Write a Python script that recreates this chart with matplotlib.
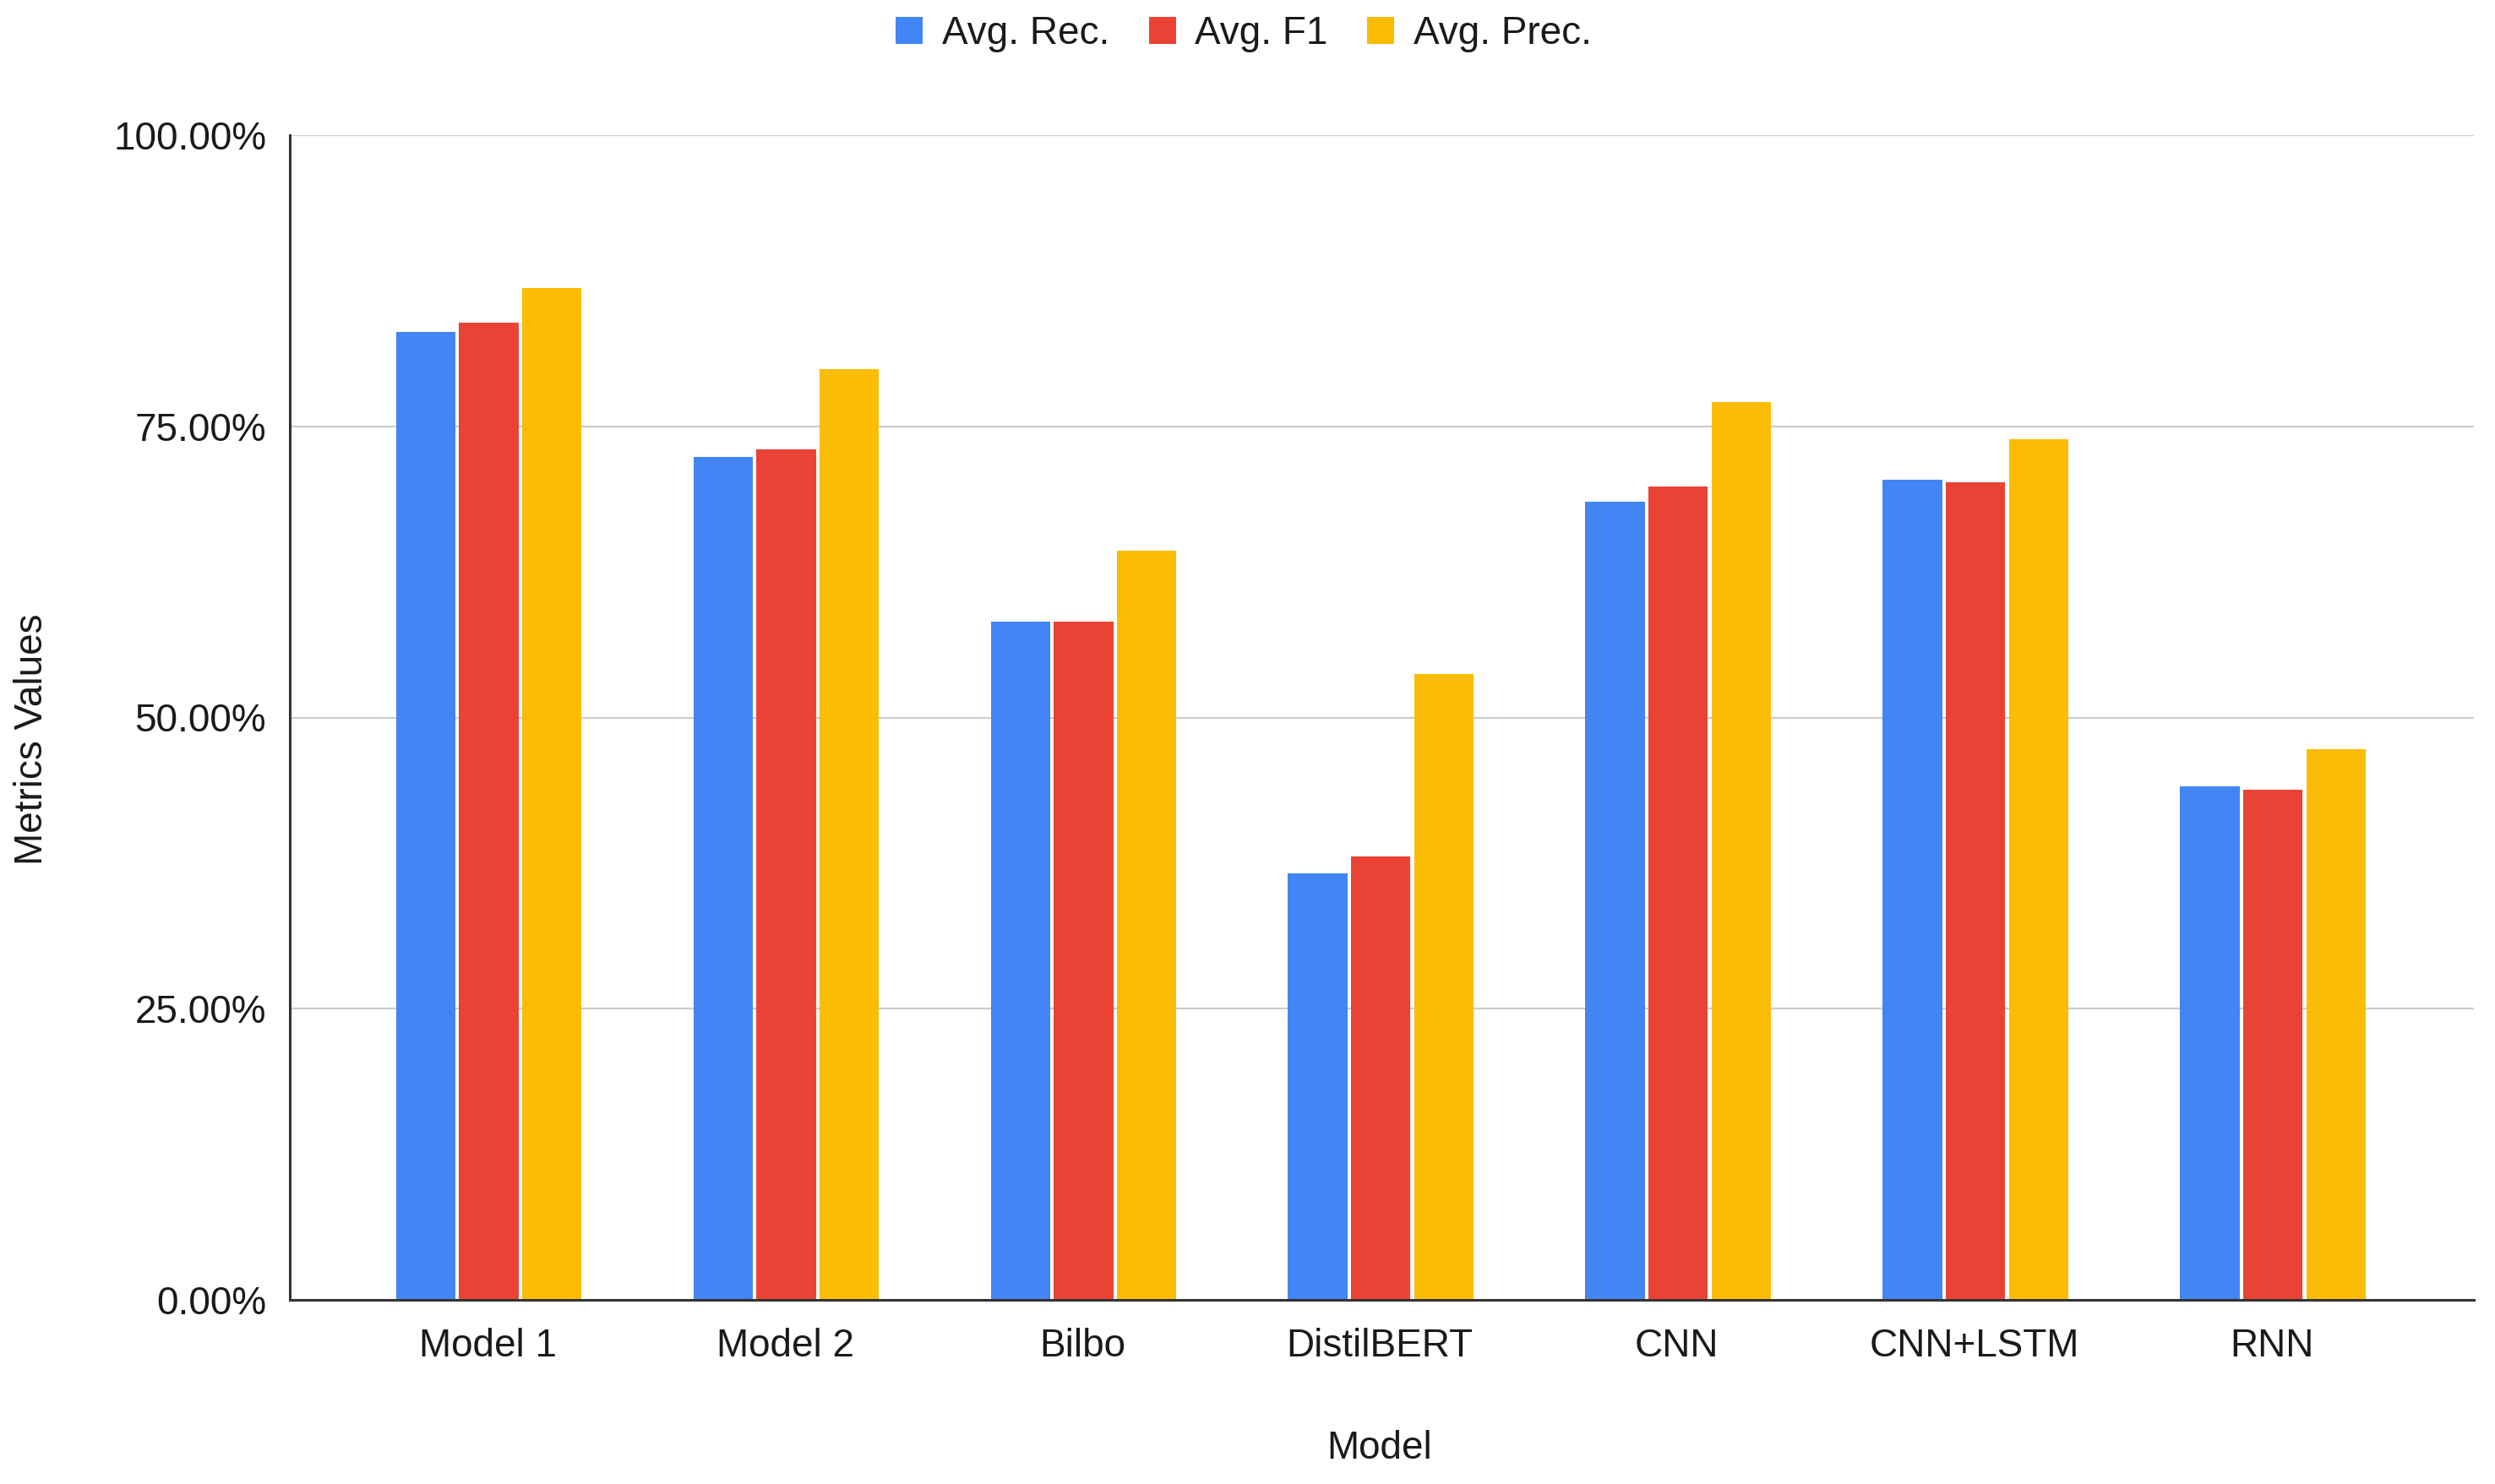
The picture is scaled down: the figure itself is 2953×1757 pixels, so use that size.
import numpy as np
import matplotlib
matplotlib.use('Agg')
import matplotlib.pyplot as plt
from matplotlib.ticker import PercentFormatter

# values (in %)
models = ['Model 1', 'Model 2', 'Bilbo', 'DistilBERT', 'CNN', 'CNN+LSTM', 'RNN']
avg_rec = [83.1, 72.4, 58.2, 36.6, 68.5, 70.4, 44.1]
avg_f1 = [83.9, 73.0, 58.2, 38.1, 69.8, 70.2, 43.8]
avg_prec = [86.9, 79.9, 64.3, 53.7, 77.1, 73.9, 47.3]

series = ['Avg. Rec.', 'Avg. F1', 'Avg. Prec.']
colors = ['#4285F4', '#EA4335', '#FBBC04']

plt.rcParams['font.family'] = ['Liberation Sans', 'DejaVu Sans']

fig = plt.figure(figsize=(29.53, 17.57), dpi=100)
ax = fig.add_axes([343 / 2953, 1 - 1539 / 1757, (2928 - 343) / 2953, (1539 - 160) / 1757])

x = np.arange(len(models))
width = 0.2
for i, (vals, name, col) in enumerate(zip([avg_rec, avg_f1, avg_prec], series, colors)):
    ax.bar(x + (i - 1) * 0.212 + 0.004, vals, width, color=col, label=name, zorder=3)

ax.set_xlim(-0.665, 6.68)
ax.set_ylim(0, 100)
ax.set_yticks([0, 25, 50, 75, 100])
ax.yaxis.set_major_formatter(PercentFormatter(decimals=2))
ax.set_xticks(x)
ax.set_xticklabels(models)

ax.grid(axis='y', color='#cccccc', linewidth=1.6, zorder=0)
for s in ['top', 'right']:
    ax.spines[s].set_visible(False)
for s in ['left', 'bottom']:
    ax.spines[s].set_color('#333333')
    ax.spines[s].set_linewidth(2.2)
    ax.spines[s].set_zorder(4)

ax.tick_params(axis='both', length=0, labelsize=33, colors='#1a1a1a')
ax.tick_params(axis='y', pad=20)
ax.tick_params(axis='x', pad=24)

fig.text(1633 / 2953, 1 - 1715 / 1757, 'Model', ha='center', va='center',
         fontsize=33, color='#1a1a1a')
fig.text(38 / 2953, 1 - 875 / 1757, 'Metrics Values', ha='center', va='center',
         rotation=90, fontsize=33, color='#1a1a1a')

fig.legend(loc='center', bbox_to_anchor=(1472 / 2953, 1 - 40 / 1757), ncol=3,
           frameon=False, fontsize=33, handlelength=0.7, handleheight=0.7,
           handletextpad=0.5, columnspacing=1.0, labelcolor='#1a1a1a')

fig.savefig('out.png', dpi=100, facecolor='white')
